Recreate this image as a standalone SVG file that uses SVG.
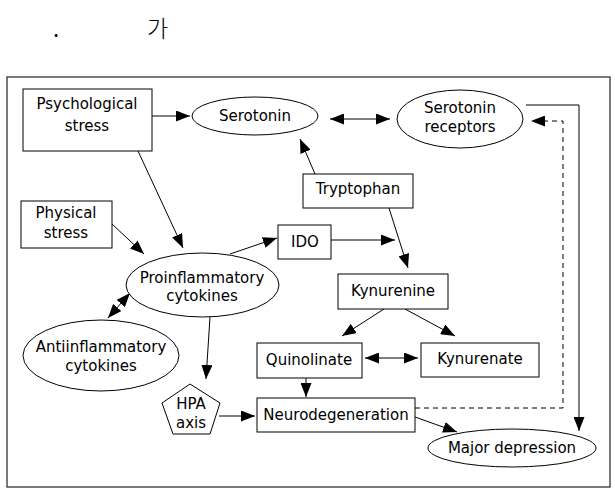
<svg xmlns="http://www.w3.org/2000/svg" width="615" height="494" viewBox="0 0 615 494">
<defs>
<marker id="ah" viewBox="0 0 14 11" refX="14" refY="5.5" markerWidth="14" markerHeight="11" markerUnits="userSpaceOnUse" orient="auto-start-reverse">
<path d="M0,0 L14,5.5 L0,11 Z" fill="#000"/>
</marker>
</defs>
<style>
.n{fill:#fff;stroke:#000;stroke-width:1}
.t{font-family:"DejaVu Sans",sans-serif;font-size:15px;fill:#000;text-anchor:middle}
.c{fill:none;stroke:#000;stroke-width:1}
.a{marker-end:url(#ah)}
.d{marker-start:url(#ah);marker-end:url(#ah)}
.dash{stroke-dasharray:5,4}
</style>
<rect x="0" y="0" width="615" height="494" fill="#fff"/>
<g id="title">
<text x="53" y="37" style="font-family:'Noto Sans CJK KR',sans-serif;font-size:22px">.</text>
<text x="147" y="37" style="font-family:'Noto Sans CJK KR',sans-serif;font-size:23px;font-weight:300">가</text>
</g>
<rect id="frame" x="7" y="77" width="603" height="410" fill="none" stroke="#333" stroke-width="1.3"/>
<g id="connectors">
<line class="c a" x1="152" y1="116" x2="190" y2="116"/>
<line class="c d" x1="330" y1="119" x2="390" y2="119"/>
<line class="c a" x1="315" y1="174" x2="300" y2="139"/>
<path class="c a" d="M526,105 H579 V431"/>
<path class="c a dash" d="M415,408 H563 V121 H531"/>
<line class="c a" x1="138" y1="151" x2="183" y2="248"/>
<line class="c a" x1="112" y1="224" x2="144" y2="254"/>
<line class="c a" x1="230" y1="254" x2="277" y2="238"/>
<line class="c a" x1="331" y1="240" x2="395" y2="240"/>
<line class="c a" x1="389" y1="208" x2="408" y2="268"/>
<line class="c d" x1="108" y1="318" x2="130" y2="293"/>
<line class="c a" x1="210" y1="317" x2="206" y2="379"/>
<line class="c a" x1="219" y1="416" x2="255" y2="416"/>
<line class="c a" x1="306" y1="378" x2="306" y2="397"/>
<line class="c d" x1="365" y1="358" x2="418" y2="358"/>
<line class="c a" x1="384" y1="309" x2="342" y2="336"/>
<line class="c a" x1="405" y1="309" x2="455" y2="336"/>
<line class="c a" x1="415" y1="417" x2="457" y2="432"/>
</g>
<g id="psychological-stress">
<rect class="n" x="23" y="89" width="129" height="62"/>
<text class="t" x="87" y="109">Psychological</text>
<text class="t" x="87" y="131">stress</text>
</g>
<g id="serotonin">
<ellipse class="n" cx="255" cy="116" rx="63" ry="19"/>
<text class="t" x="255" y="121">Serotonin</text>
</g>
<g id="serotonin-receptors">
<ellipse class="n" cx="460" cy="119" rx="63" ry="29"/>
<text class="t" x="460" y="113">Serotonin</text>
<text class="t" x="460" y="132">receptors</text>
</g>
<g id="tryptophan">
<rect class="n" x="303" y="174" width="110" height="34"/>
<text class="t" x="358" y="194">Tryptophan</text>
</g>
<g id="physical-stress">
<rect class="n" x="21" y="201" width="91" height="47"/>
<text class="t" x="66" y="218">Physical</text>
<text class="t" x="66" y="238">stress</text>
</g>
<g id="ido">
<rect class="n" x="278" y="225" width="53" height="34"/>
<text class="t" x="305" y="247">IDO</text>
</g>
<g id="proinflammatory-cytokines">
<ellipse class="n" cx="202.5" cy="285" rx="76.5" ry="32"/>
<text class="t" x="202" y="283">Proinflammatory</text>
<text class="t" x="202" y="301">cytokines</text>
</g>
<g id="kynurenine">
<rect class="n" x="338" y="274" width="110" height="35"/>
<text class="t" x="393" y="296">Kynurenine</text>
</g>
<g id="antiinflammatory-cytokines">
<ellipse class="n" cx="101" cy="355.5" rx="78" ry="35.5"/>
<text class="t" x="101" y="352">Antiinflammatory</text>
<text class="t" x="101" y="371">cytokines</text>
</g>
<g id="quinolinate">
<rect class="n" x="257" y="343" width="105" height="35"/>
<text class="t" x="309" y="365">Quinolinate</text>
</g>
<g id="kynurenate">
<rect class="n" x="421" y="343" width="118" height="34"/>
<text class="t" x="480" y="364">Kynurenate</text>
</g>
<g id="hpa-axis">
<polygon class="n" points="190,384 162,403 173,434 210,434 220,403"/>
<text class="t" x="191" y="409">HPA</text>
<text class="t" x="191" y="428">axis</text>
</g>
<g id="neurodegeneration">
<rect class="n" x="257" y="398" width="158" height="34"/>
<text class="t" x="336" y="420">Neurodegeneration</text>
</g>
<g id="major-depression">
<ellipse class="n" cx="512" cy="448" rx="84" ry="19"/>
<text class="t" x="512" y="453">Major depression</text>
</g>
</svg>
